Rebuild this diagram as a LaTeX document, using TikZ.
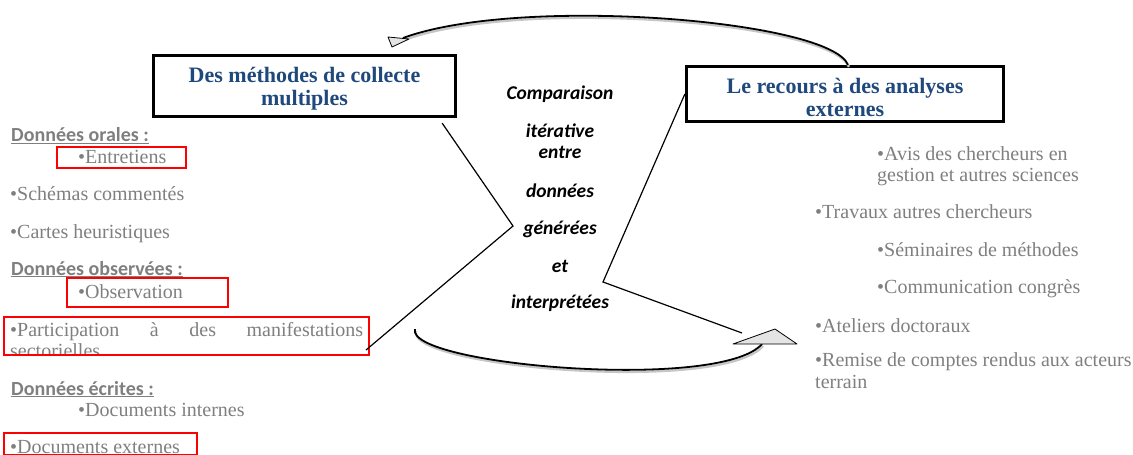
\documentclass[tikz,border=0pt]{standalone}
\usepackage{fontspec}
\setmainfont{Liberation Serif}
\newfontfamily\calibfont{Carlito}
\setlength{\parindent}{0pt}

\definecolor{txtgray}{HTML}{7F7F7F}
\definecolor{titleblue}{HTML}{1F497D}
\definecolor{tipfill}{HTML}{E4E4E4}

\tikzset{
  titlebox/.style={draw, line width=3.3pt, fill=white, align=center, inner sep=0pt,
    text=titleblue, font=\fontsize{22}{23}\selectfont\bfseries},
  item/.style={anchor=base west, inner sep=0pt, text=txtgray,
    font=\fontsize{20}{21.5}\selectfont},
  head/.style={anchor=base west, inner sep=0pt, text=txtgray,
    font=\calibfont\bfseries\fontsize{20}{22}\selectfont},
  redbox/.style={draw=red, line width=2pt, inner sep=0pt},
  link/.style={line width=1.2pt},
  curvearrow/.style={line width=1.8pt,
    preaction={draw=gray!45, line width=2.4pt, transform canvas={shift={(1pt,-2pt)}}}},
  headtip/.style={draw, line width=0.8pt, fill=tipfill, line join=round},
}

\begin{document}
\begin{tikzpicture}[x=1pt, y=-1pt]
    \useasboundingbox (0,0) rectangle (1133,455);
    % --- cadres titres ---
    \node[titlebox, minimum width=302pt, minimum height=61pt] (meth) at (304.5,86)
      {\rule{0pt}{21pt}Des méthodes de collecte\\multiples};
    \node[titlebox, minimum width=317pt, minimum height=55pt] (recours) at (845,94)
      {\rule{0pt}{22pt}Le recours à des analyses\\externes};
    % --- colonne centrale (ancrée sur la dernière ligne) ---
    \node[anchor=base, inner sep=0pt, align=center,
      font=\calibfont\bfseries\itshape\fontsize{19.5}{21}\selectfont] (comp) at (560,308)
      {Comparaison\\[17pt]itérative\\entre\\[18pt]données\\[16pt]générées\\[17pt]et\\[15pt]interprétées};
    % --- données orales ---
    \node[head] (orales) at (11,141.7) {\underline{Données orales :}};
    \node[item] (entretiens) at (78,163) {•Entretiens};
    \node[item] (schemas) at (10,200.7) {•Schémas commentés};
    \node[item] (cartes) at (10,238) {•Cartes heuristiques};
    % --- données observées ---
    \node[head] (observees) at (11,275) {\underline{Données observées :}};
    \node[item] (observation) at (78,298) {•Observation};
    \node[item] (participation) at (10,336)
      {\makebox[353pt][s]{•Participation à des manifestations}};
    \begin{scope}
      \clip (0,340) rectangle (380,355);
      \node[item] (sectorielles) at (10,357) {sectorielles};
    \end{scope}
    % --- données écrites ---
    \node[head] (ecrites) at (11,395) {\underline{Données écrites :}};
    \node[item] (internes) at (78,416) {•Documents internes};
    \node[item] (externes) at (10,453) {•Documents externes};
    % --- cadres rouges ---
    \node[redbox, minimum width=129pt, minimum height=21pt] (boxent) at (121.5,157.5) {};
    \node[redbox, minimum width=161pt, minimum height=29pt] (boxobs) at (147.5,292) {};
    \node[redbox, minimum width=365pt, minimum height=38pt] (boxpart) at (186.5,336) {};
    \node[redbox, minimum width=193pt, minimum height=22pt] (boxext) at (100.5,444) {};
    % --- analyses externes ---
    \node[item, align=left] (avis) at (877,181.7) {•Avis des chercheurs en\\gestion et autres sciences};
    \node[item] (travaux) at (815,218) {•Travaux autres chercheurs};
    \node[item] (seminaires) at (877,256) {•Séminaires de méthodes};
    \node[item] (congres) at (877,293) {•Communication congrès};
    \node[item] (ateliers) at (815,332) {•Ateliers doctoraux};
    \node[item, align=left] (remise) at (815,388) {•Remise de comptes rendus aux acteurs\\terrain};
    % --- traits en zigzag ---
    \coordinate (bendL) at (513,226);
    \coordinate (bendR) at (603,282);
    \coordinate (tipB) at (742,333);
    \draw[link] ([xshift=-15pt,yshift=-5pt]meth.south east) -- (bendL)
      -- ([xshift=-4pt,yshift=-14pt]boxpart.east);
    \draw[link] (recours.west) -- (bendR) -- (tipB);
    % --- flèche du haut ---
    \coordinate (endT) at (403,38);
    \draw[curvearrow] ([xshift=3pt]recours.north) .. controls (830,20) and (520,-5) .. (endT);
    \draw[headtip] (388,37) -- (409,39) -- (392,47) -- cycle;
    % --- flèche du bas ---
    \coordinate (startB) at (415,329);
    \coordinate (endB) at (762,344);
    \draw[curvearrow] (startB) .. controls (405,365) and (720,392) .. (endB);
    \draw[headtip] (733,344) -- (775,329) -- (797,344) -- cycle;
  \end{tikzpicture}
\end{document}
